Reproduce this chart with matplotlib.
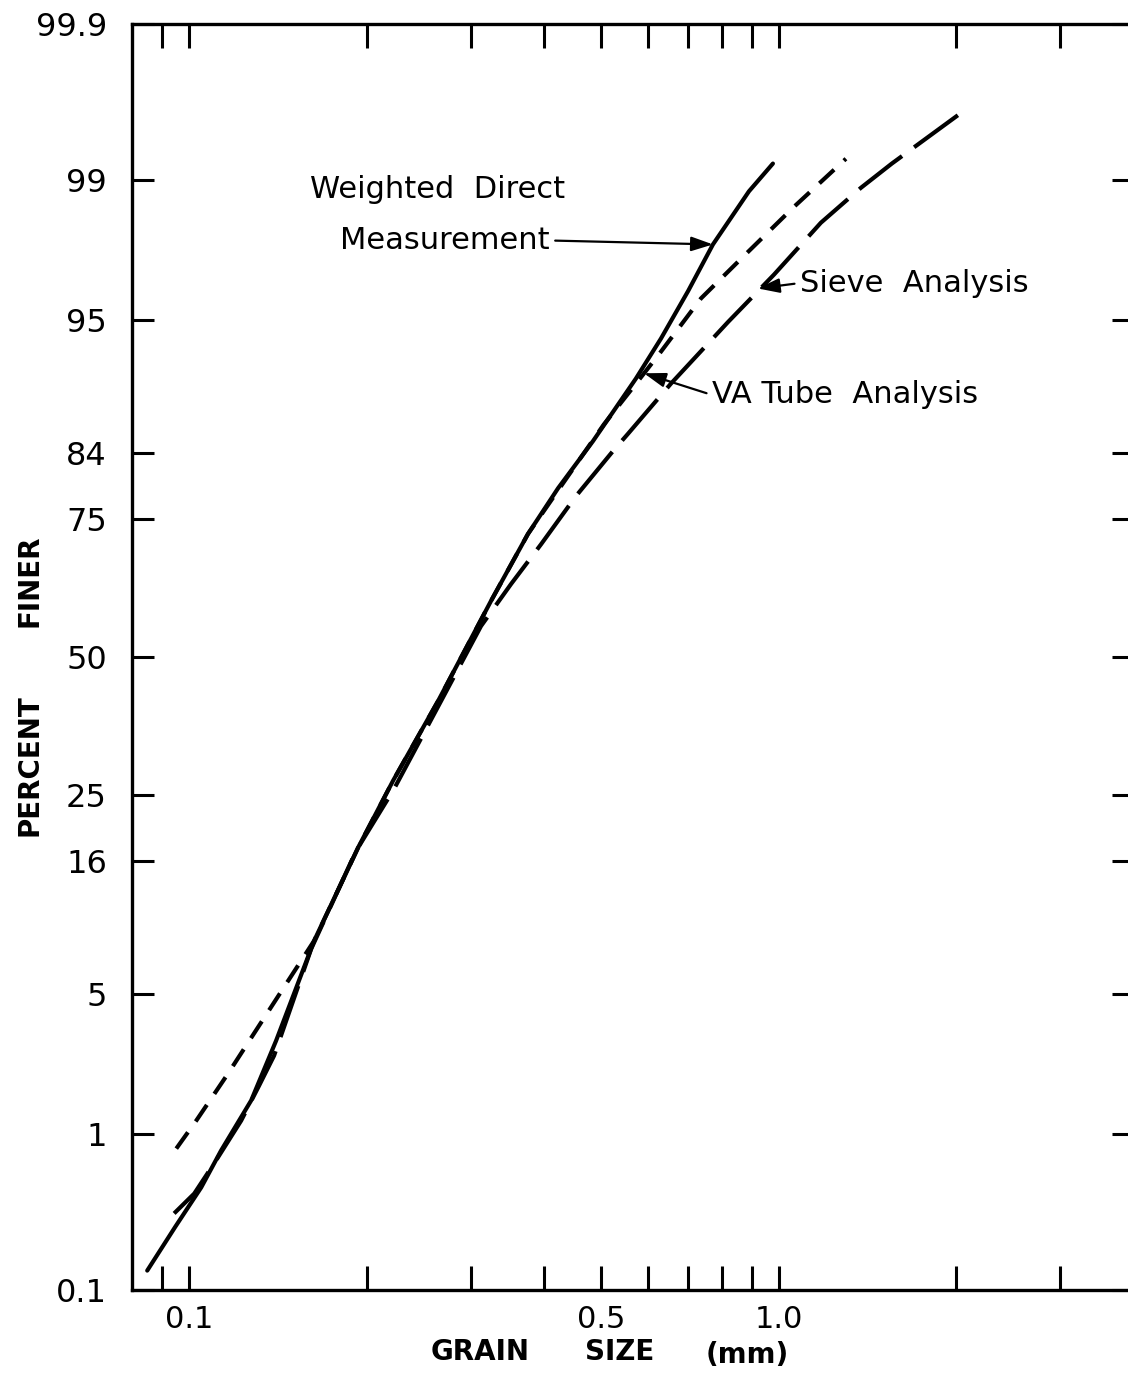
import numpy as np
import matplotlib.pyplot as plt
from matplotlib.ticker import FixedLocator, NullLocator
from statistics import NormalDist

# grain size (mm) and percent finer
direct_size = [0.0849, 0.0947, 0.1048, 0.1133, 0.1274, 0.1404, 0.1629, 0.1934, 0.2217,
               0.2643, 0.3250, 0.3754, 0.4222, 0.4838, 0.5722, 0.6310, 0.7015, 0.7729,
               0.8896, 0.9768]
direct_pct = [0.137, 0.27, 0.48, 0.80, 1.52, 3.05, 8.3, 17.6, 27.3,
              41.5, 60.8, 72.6, 79.5, 85.4, 91.3, 94.0, 96.3, 97.8,
              98.85, 99.2]

tube_size = [0.0951, 0.1028, 0.1164, 0.1274, 0.1472, 0.1629, 0.1934, 0.2217, 0.2643,
             0.3250, 0.3754, 0.4272, 0.5050, 0.5768, 0.6310, 0.7377, 0.8861, 1.0602, 1.299]
tube_pct = [0.82, 1.18, 2.10, 3.15, 5.7, 8.3, 17.6, 27.3, 41.5,
            60.8, 72.6, 79.8, 87.2, 91.1, 93.2, 96.0, 97.6, 98.6, 99.25]

sieve_size = [0.0943, 0.1020, 0.1111, 0.1225, 0.1314, 0.1393, 0.1610, 0.1919, 0.2226,
              0.2674, 0.3125, 0.3513, 0.3951, 0.4528, 0.5251, 0.5546, 0.6560, 0.8197,
              0.9806, 1.178, 1.377, 1.554, 2.027]
sieve_pct = [0.33, 0.44, 0.70, 1.18, 1.82, 2.58, 7.7, 17.2, 26.0,
             41.5, 56.0, 63.9, 70.9, 78.4, 84.4, 86.2, 90.9, 94.9,
             96.9, 98.3, 98.9, 99.2, 99.6]

x_ticks = [0.09, 0.1, 0.2, 0.3, 0.4, 0.5, 0.6, 0.7, 0.8, 0.9, 1.0, 2.0, 3.0]
x_labels = ['', '0.1', '', '', '', '0.5', '', '', '', '', '1.0', '', '']
y_ticks = [0.1, 1, 5, 16, 25, 50, 75, 84, 95, 99, 99.9]
y_labels = ['0.1', '1', '5', '16', '25', '50', '75', '84', '95', '99', '99.9']

_nd = NormalDist()


def prob_fwd(p):
    p = np.clip(np.asarray(p, dtype=float) / 100.0, 1e-9, 1 - 1e-9)
    return np.vectorize(_nd.inv_cdf, otypes=[float])(p)


def prob_inv(z):
    z = np.asarray(z, dtype=float)
    return np.vectorize(_nd.cdf, otypes=[float])(z) * 100.0


fig = plt.figure(figsize = (11.28, 13.77), dpi = 100)
ax = fig.add_axes([132/1128, 1 - 1290/1377, 1002/1128, 1266/1377])

ax.set_xscale('log')
ax.set_yscale('function', functions = (prob_fwd, prob_inv))
ax.set_xlim(0.08, 4.0)
ax.set_ylim(0.1, 99.9)

# the three curves
ax.plot(direct_size, direct_pct, color = 'black', lw = 3, solid_capstyle = 'round',
        solid_joinstyle = 'round')
ax.plot(tube_size, tube_pct, color = 'black', lw = 3, linestyle = (0, (4.8, 3.2)))
ax.plot(sieve_size, sieve_pct, color = 'black', lw = 3, linestyle = (0, (13, 3.6)))

# axes and ticks
ax.xaxis.set_major_locator(FixedLocator(x_ticks))
ax.xaxis.set_minor_locator(NullLocator())
ax.set_xticklabels(x_labels)
ax.yaxis.set_major_locator(FixedLocator(y_ticks))
ax.yaxis.set_minor_locator(NullLocator())
ax.set_yticklabels(y_labels)

ax.tick_params(axis = 'x', which = 'major', direction = 'in', length = 17, width = 2.2,
               top = True, bottom = True, labelsize = 22, pad = 11)
ax.tick_params(axis = 'y', which = 'major', direction = 'in', length = 16, width = 2.2,
               left = True, right = True, labelsize = 23, pad = 18)
for sp in ax.spines.values():
    sp.set_linewidth(2.4)

# axis titles
fig.text(30/1128, 1 - 765/1377, 'PERCENT', rotation = 90, ha = 'center', va = 'center',
         fontsize = 20, fontweight = 'bold')
fig.text(30/1128, 1 - 581/1377, 'FINER', rotation = 90, ha = 'center', va = 'center',
         fontsize = 20, fontweight = 'bold')
fig.text(480/1128, 1 - 1352/1377, 'GRAIN', ha = 'center', va = 'center',
         fontsize = 20, fontweight = 'bold')
fig.text(620/1128, 1 - 1352/1377, 'SIZE', ha = 'center', va = 'center',
         fontsize = 20, fontweight = 'bold')
fig.text(747/1128, 1 - 1355/1377, '(mm)', ha = 'center', va = 'center',
         fontsize = 20, fontweight = 'bold')

# curve labels with arrows
arrow = dict(arrowstyle = '-|>,head_length=0.6,head_width=0.2', color = 'black', lw = 1.6,
             shrinkA = 2, shrinkB = 0)
ax.text(0.178, 0.869, 'Weighted  Direct', transform = ax.transAxes,
        fontsize = 22, ha = 'left', va = 'center')
ax.annotate('Measurement', xy = (0.7729, 97.8), xycoords = 'data',
            xytext = (0.2076, 0.829), textcoords = 'axes fraction',
            fontsize = 22, ha = 'left', va = 'center',
            arrowprops = dict(arrow, relpos = (1.0, 0.5)))
ax.annotate('Sieve  Analysis', xy = (0.921, 96.4), xycoords = 'data',
            xytext = (0.6667, 0.7954), textcoords = 'axes fraction',
            fontsize = 22, ha = 'left', va = 'center',
            arrowprops = dict(arrow, relpos = (0.0, 0.5)))
ax.annotate('VA Tube  Analysis', xy = (0.5905, 91.7), xycoords = 'data',
            xytext = (0.5788, 0.707), textcoords = 'axes fraction',
            fontsize = 22, ha = 'left', va = 'center',
            arrowprops = dict(arrow, relpos = (0.0, 0.5)))

plt.savefig('out.png', dpi = 100)
